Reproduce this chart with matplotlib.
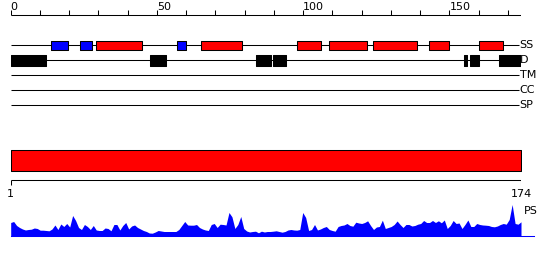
import matplotlib
matplotlib.use("Agg")
import matplotlib.pyplot as plt
import numpy as np

# ---------------- data ----------------
seq_len = 174
ruler_ticks = list(range(0, 171, 10))
ruler_labels = [0, 50, 100, 150]
track_names = ["SS", "D", "TM", "CC", "SP"]

ss_helix = [(29, 45), (65, 79), (98, 106), (109, 122), (124, 139), (143, 150), (160, 168.2)]
ss_strand = [(13.8, 19.7), (23.8, 27.9), (57, 59.8)]
disorder = [(0, 12), (47.6, 53), (84, 89), (89.7, 94.1), (155, 156.2), (157.1, 160), (167, 174.4)]
domain = [(1, 174)]

ps_residues = list(range(1, 175))
ps_values = [
    13, 14, 10, 8, 6.5, 5.5, 6, 6.3, 7.5, 7,
    5.3, 5.3, 5, 4.7, 6.5, 10.5, 6, 11.5, 9, 12,
    8.5, 20, 15, 8, 6, 11, 9, 6, 10, 5.5,
    5, 5, 7.5, 7, 4.7, 11, 11, 5.5, 10, 13,
    6.5, 9.5, 10.5, 8, 6.5, 5, 4, 2.5, 2.3, 3.5,
    5, 4.5, 4, 4, 4, 4, 4, 6, 10, 14,
    10.5, 10.3, 10.3, 11, 8, 6.5, 5.5, 5, 11, 12,
    8, 11.3, 11, 10.5, 23, 18.7, 7, 11, 19, 7,
    4.5, 3.5, 4, 4.3, 2.7, 4.3, 3.5, 4, 4, 4.3,
    4.7, 4, 3.3, 4, 5.5, 6, 5.5, 5.3, 6, 23,
    18, 5, 6, 11, 5.5, 6.5, 8, 9, 6, 5,
    4.3, 9, 10, 10.5, 12, 10, 9.3, 13.3, 12.5, 12,
    13, 14.7, 10, 6, 8.5, 9, 15.3, 7, 8, 9,
    11, 14.5, 11, 8, 11, 11, 9.5, 10, 11.3, 12,
    15, 13, 13, 15, 13, 14.7, 12.7, 15.5, 7, 10,
    15, 12, 12.5, 7, 11, 15.5, 9, 9, 12, 11,
    10.5, 10.3, 10, 9, 8.7, 9.5, 11, 12, 11.3, 16,
    31, 12, 11.3, 13.7,
]

# ---------------- figure ----------------
W_PX, H_PX = 550, 260
fig = plt.figure(figsize=(W_PX / 100, H_PX / 100), dpi=100)
plt.rcParams['font.family'] = ['DejaVu Sans']

x0_px, x1_px = 10.7, 521.0
L = x0_px / W_PX
Wd = (x1_px - x0_px) / W_PX
lw = 0.75
fs = 8

# top part: ruler + tracks (x in ruler units, y in pixel rows)
ax = fig.add_axes([L, 0, Wd, 1])
ax.set_xlim(0, 174.5)
ax.set_ylim(H_PX, 0)
ax.axis('off')

# ruler
ax.plot([0, 174.5], [15, 15], color='black', lw=lw, solid_capstyle='butt')
ax.vlines(ruler_ticks, 10, 15, color='black', lw=lw)
for v in ruler_labels:
    ax.text(v, 10.5, str(v), ha='left', va='baseline', fontsize=fs, color='black')

track_y = {"SS": 45, "D": 60, "TM": 75, "CC": 90, "SP": 105}
for name in track_names:
    y = track_y[name]
    ax.plot([0, 173.9], [y, y], color='black', lw=lw, solid_capstyle='butt', zorder=1)
    ax.text(174.0, y, name, ha='left', va='center', fontsize=fs, color='black')

ax.broken_barh([(s, e - s) for s, e in ss_strand], (40.7, 9.6),
               facecolor='#0000ff', edgecolor='black', lw=lw, zorder=2)
ax.broken_barh([(s, e - s) for s, e in ss_helix], (40.7, 9.6),
               facecolor='#ff0000', edgecolor='black', lw=lw, zorder=2)
ax.broken_barh([(s, e - s) for s, e in disorder], (55, 10.7),
               facecolor='black', edgecolor='black', lw=lw, zorder=2)

# lower part: domain bar + sequence ruler (x in residues)
ax2 = fig.add_axes([L, 0, Wd, 1])
ax2.set_xlim(1, 174)
ax2.set_ylim(H_PX, 0)
ax2.axis('off')
ax2.patch.set_alpha(0)

ax2.broken_barh([(s, e - s) for s, e in domain], (150, 20.5),
                facecolor='#ff0000', edgecolor='black', lw=lw)
ax2.plot([1, seq_len], [180, 180], color='black', lw=lw, solid_capstyle='butt')
ax2.vlines([1, seq_len], 180, 185, color='black', lw=lw)
ax2.text(1, 197, "1", ha='center', va='baseline', fontsize=fs, color='black')
ax2.text(seq_len, 197, str(seq_len), ha='center', va='baseline', fontsize=fs, color='black')

# profile
axp = fig.add_axes([L, (H_PX - 235.5) / H_PX, Wd, 40 / H_PX])
axp.set_xlim(1, 174)
axp.set_ylim(0, 40)
axp.axis('off')
axp.patch.set_alpha(0)
axp.fill_between(ps_residues, ps_values, 0, color='#0000ff', lw=0)
axp.plot([1, 178.5], [0, 0], color='#0000ff', lw=lw, clip_on=False)
axp.text(175.0, 24, "PS", ha='left', va='center', fontsize=fs, color='black')

fig.savefig("out.png", dpi=100)
